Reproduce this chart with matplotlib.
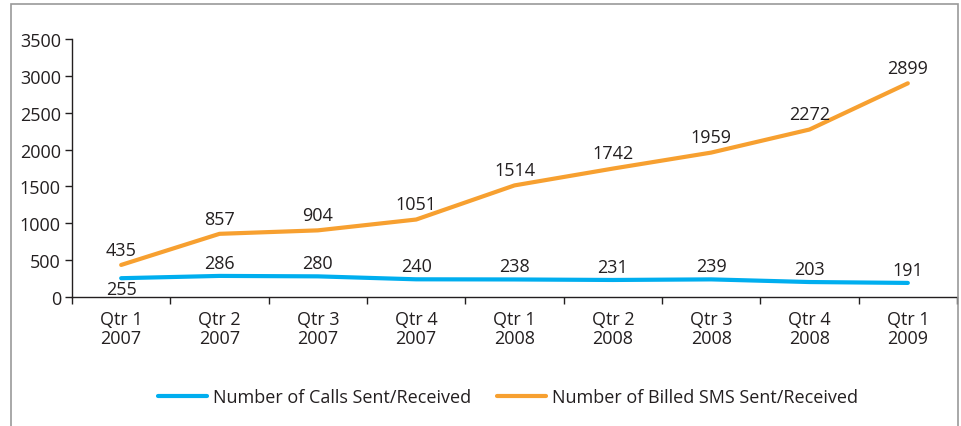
import matplotlib
matplotlib.use("Agg")
import matplotlib.pyplot as plt
from matplotlib.patches import Rectangle

categories = ["Qtr 1\n2007", "Qtr 2\n2007", "Qtr 3\n2007", "Qtr 4\n2007",
              "Qtr 1\n2008", "Qtr 2\n2008", "Qtr 3\n2008", "Qtr 4\n2008",
              "Qtr 1\n2009"]
calls = [255, 286, 280, 240, 238, 231, 239, 203, 191]
sms = [435, 857, 904, 1051, 1514, 1742, 1959, 2272, 2899]
calls_label = "Number of Calls Sent/Received"
sms_label = "Number of Billed SMS Sent/Received"
yticks = [0, 500, 1000, 1500, 2000, 2500, 3000, 3500]

plt.rcParams['font.family'] = ['Open Sans', 'DejaVu Sans']
TXT = "#231f20"
BLUE = "#00aeef"
ORANGE = "#f7a030"
FS = 13

fig = plt.figure(figsize=(9.61, 4.27), dpi=100)
ax = fig.add_axes([72/961, 1-298/427, (957-72)/961, (298-40)/427])

x = list(range(len(categories)))
ax.plot(x, calls, color=BLUE, lw=3, solid_capstyle='round', label=calls_label)
ax.plot(x, sms, color=ORANGE, lw=3, solid_capstyle='round', label=sms_label)

for i, v in enumerate(calls):
    dy = -8 if i == 0 else 9.5
    ax.annotate(str(v), (i, v), xytext=(0, dy), textcoords='offset points',
                ha='center', va='center', fontsize=FS, color=TXT)
for i, v in enumerate(sms):
    ax.annotate(str(v), (i, v), xytext=(0, 11), textcoords='offset points',
                ha='center', va='center', fontsize=FS, color=TXT)

ax.set_xlim(-0.5, len(categories) - 0.5)
ax.set_ylim(0, 3500)
ax.set_yticks(yticks)
ax.set_yticklabels([str(t) for t in yticks])
ax.set_xticks(x)
ax.set_xticklabels(categories, linespacing=1.1)
ax.set_xticks([i - 0.5 for i in range(len(categories) + 1)], minor=True)
ax.tick_params(axis='x', which='major', length=0, pad=9, labelsize=FS, colors=TXT)
ax.tick_params(axis='x', which='minor', length=5, width=1, color=TXT)
ax.tick_params(axis='y', length=5, width=1, labelsize=FS, colors=TXT, pad=3)
for s in ['top', 'right']:
    ax.spines[s].set_visible(False)
for s in ['left', 'bottom']:
    ax.spines[s].set_color(TXT)
    ax.spines[s].set_linewidth(1)

fig.legend(handles=ax.get_lines(), loc='center', bbox_to_anchor=(508/961, 1-398/427),
           ncol=2, frameon=False, fontsize=FS,
           handlelength=2.7, handletextpad=0.35,
           columnspacing=1.45, labelcolor=TXT)

fig.patches.append(Rectangle((11/961, -0.05), (958-11)/961, 1.05-5/427,
                             transform=fig.transFigure, fill=False,
                             edgecolor="#999999", lw=1.2))

fig.savefig("out.png", dpi=100)
